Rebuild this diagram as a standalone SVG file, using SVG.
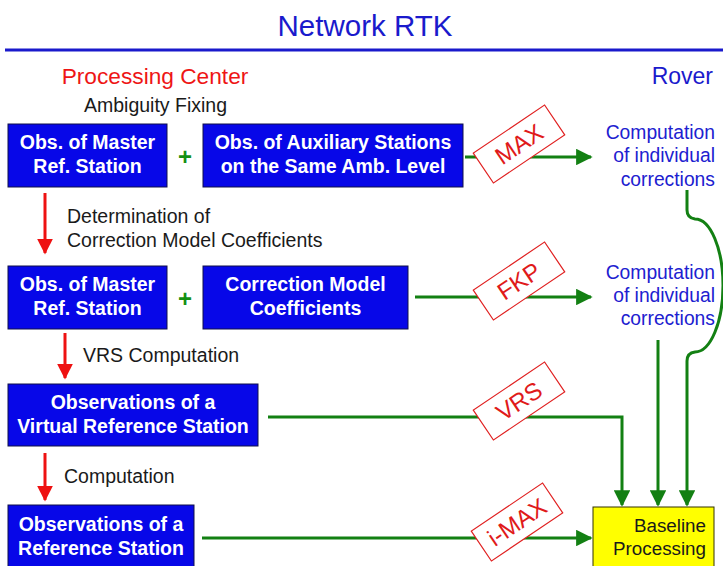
<svg xmlns="http://www.w3.org/2000/svg" width="723" height="566" viewBox="0 0 723 566">
  <defs>
    <marker id="gh" viewBox="0 0 10 10" refX="9" refY="5" markerWidth="6" markerHeight="5.5" orient="auto" markerUnits="strokeWidth">
      <path d="M0,0 L10,5 L0,10 Z" fill="#138013"/>
    </marker>
    <marker id="rh" viewBox="0 0 10 10" refX="9" refY="5" markerWidth="6" markerHeight="5.2" orient="auto" markerUnits="strokeWidth">
      <path d="M0,0 L10,5 L0,10 Z" fill="#ee1111"/>
    </marker>
  </defs>
  <style>
    text { font-family: "Liberation Sans", Arial, sans-serif; }
    .box { fill: #0707e8; stroke: #10104a; stroke-width: 1; }
    .bt { fill: #ffffff; font-weight: bold; font-size: 19.5px; text-anchor: middle; }
    .lbl { fill: #1a1a1a; font-size: 19.5px; }
    .rov { fill: #2020d0; font-size: 19.3px; text-anchor: end; }
    .plus { fill: #139013; font-size: 24px; font-weight: bold; text-anchor: middle; }
    .g { fill: none; stroke: #138013; stroke-width: 3; }
    .r { fill: none; stroke: #ee1111; stroke-width: 3; }
    .tag rect { fill: #ffffff; stroke: #e02020; stroke-width: 1.2; }
    .tag text { fill: #e01a1a; font-size: 24px; text-anchor: middle; }
  </style>

  <rect width="723" height="566" fill="#ffffff"/>

  <!-- heading -->
  <text x="365" y="36" font-size="29.5" fill="#1a1acc" text-anchor="middle">Network RTK</text>
  <line x1="5" y1="50" x2="723" y2="50" stroke="#1a1acc" stroke-width="3"/>
  <text x="155" y="84" font-size="22.7" fill="#ee1515" text-anchor="middle">Processing Center</text>
  <text x="713" y="84" font-size="23" fill="#1a1acc" text-anchor="end">Rover</text>

  <!-- step labels -->
  <text class="lbl" x="84" y="112">Ambiguity Fixing</text>
  <text class="lbl" x="67" y="223">Determination of</text>
  <text class="lbl" x="67" y="247">Correction Model Coefficients</text>
  <text class="lbl" x="83" y="362">VRS Computation</text>
  <text class="lbl" x="64" y="483">Computation</text>

  <!-- connectors -->
  <g id="connectors">
    <line class="r" x1="45" y1="193" x2="45" y2="253" marker-end="url(#rh)"/>
    <line class="r" x1="65" y1="333" x2="65" y2="378" marker-end="url(#rh)"/>
    <line class="r" x1="45" y1="453" x2="45" y2="500" marker-end="url(#rh)"/>
    <line class="g" x1="465" y1="157" x2="591" y2="157" marker-end="url(#gh)"/>
    <line class="g" x1="415" y1="297" x2="591" y2="297" marker-end="url(#gh)"/>
    <polyline class="g" points="268,417 622,417 622,505" marker-end="url(#gh)"/>
    <line class="g" x1="202" y1="538" x2="591" y2="538" marker-end="url(#gh)"/>
    <line class="g" x1="658" y1="340" x2="658" y2="505" marker-end="url(#gh)"/>
    <path class="g" d="M687,190 V210 Q687,218 695,219 A28,66.5 0 0 1 695,352 Q687,353 687,361 V505" marker-end="url(#gh)"/>
  </g>

  <!-- nodes -->
  <g id="obs-master-1">
    <rect class="box" x="8" y="124" width="159" height="63"/>
    <text class="bt" x="87.5" y="149">Obs. of Master</text>
    <text class="bt" x="87.5" y="173">Ref. Station</text>
  </g>
  <text class="plus" x="185" y="165">+</text>
  <g id="obs-auxiliary">
    <rect class="box" x="203" y="124" width="260" height="63"/>
    <text class="bt" x="333" y="149">Obs. of Auxiliary Stations</text>
    <text class="bt" x="333" y="173">on the Same Amb. Level</text>
  </g>

  <g id="obs-master-2">
    <rect class="box" x="8" y="266" width="159" height="63"/>
    <text class="bt" x="87.5" y="291">Obs. of Master</text>
    <text class="bt" x="87.5" y="315">Ref. Station</text>
  </g>
  <text class="plus" x="185" y="307">+</text>
  <g id="coefficients">
    <rect class="box" x="203" y="266" width="205" height="63"/>
    <text class="bt" x="305.5" y="291">Correction Model</text>
    <text class="bt" x="305.5" y="315">Coefficients</text>
  </g>

  <g id="obs-vrs">
    <rect class="box" x="8" y="384" width="250" height="62"/>
    <text class="bt" x="133" y="409">Observations of a</text>
    <text class="bt" x="133" y="433">Virtual Reference Station</text>
  </g>

  <g id="obs-ref">
    <rect class="box" x="8" y="505" width="186" height="70"/>
    <text class="bt" x="101" y="531">Observations of a</text>
    <text class="bt" x="101" y="555">Reference Station</text>
  </g>

  <g id="rover-comp-1">
    <text class="rov" x="715" y="139">Computation</text>
    <text class="rov" x="715" y="162">of individual</text>
    <text class="rov" x="715" y="186">corrections</text>
  </g>
  <g id="rover-comp-2">
    <text class="rov" x="715" y="279">Computation</text>
    <text class="rov" x="715" y="302">of individual</text>
    <text class="rov" x="715" y="325">corrections</text>
  </g>

  <g id="baseline">
    <rect x="593" y="507" width="121" height="70" fill="#ffff00" stroke="#333300" stroke-width="1"/>
    <text x="706" y="532" font-size="18.8" fill="#1a1a1a" text-anchor="end">Baseline</text>
    <text x="706" y="555" font-size="18.8" fill="#1a1a1a" text-anchor="end">Processing</text>
  </g>

  <!-- method tags -->
  <g id="tag-max" class="tag" transform="translate(519,144) rotate(-34)">
    <rect x="-43" y="-18" width="86" height="36"/>
    <text x="0" y="8.5">MAX</text>
  </g>
  <g id="tag-fkp" class="tag" transform="translate(519,281) rotate(-34)">
    <rect x="-43" y="-18" width="86" height="36"/>
    <text x="0" y="8.5">FKP</text>
  </g>
  <g id="tag-vrs" class="tag" transform="translate(519,401) rotate(-34)">
    <rect x="-43" y="-18" width="86" height="36"/>
    <text x="0" y="8.5">VRS</text>
  </g>
  <g id="tag-imax" class="tag" transform="translate(517,522) rotate(-34)">
    <rect x="-43" y="-18" width="86" height="36"/>
    <text x="0" y="8.5">i-MAX</text>
  </g>
</svg>
